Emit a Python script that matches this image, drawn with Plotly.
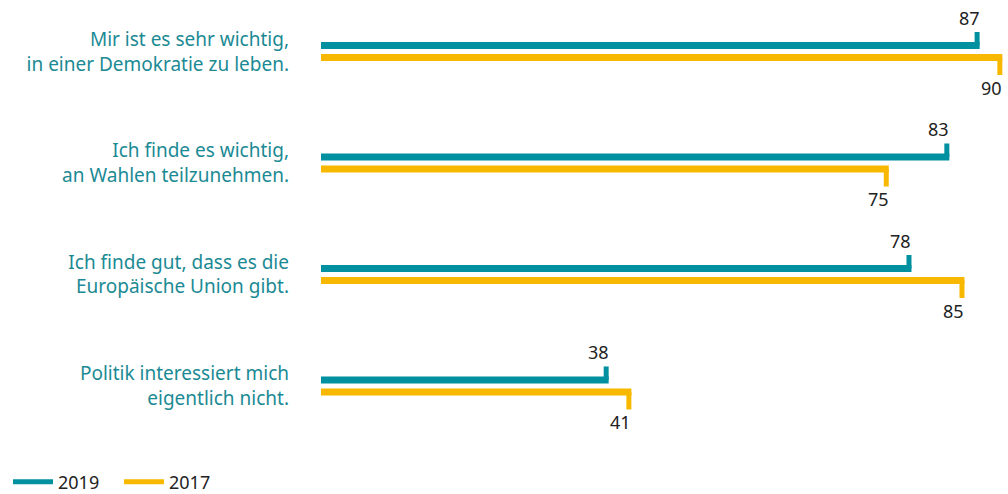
import plotly.graph_objects as go

categories = [
    "Mir ist es sehr wichtig,<br>in einer Demokratie zu leben.",
    "Ich finde es wichtig,<br>an Wahlen teilzunehmen.",
    "Ich finde gut, dass es die<br>Europäische Union gibt.",
    "Politik interessiert mich<br>eigentlich nicht.",
]
values_2019 = [87, 83, 78, 38]
values_2017 = [90, 75, 85, 41]
series_names = ["2019", "2017"]

TEAL = "#0090A0"
YELLOW = "#F9B800"
LABEL_TEAL = "#1B8A94"
NUM_COLOR = "#222222"
FONT = "Noto Sans"

W, H = 1008, 494
L = 321
XMAX = 90.75
pxx = (W - L) / XMAX          # px per x unit
Y_TOP, Y_BOT = 3.462, -0.969
pxy = H / (Y_TOP - Y_BOT)     # px per y unit

n = len(categories)
cat_pos = [n - 1 - i for i in range(n)]   # top to bottom

bar_off = 6 / pxy
tick_dx = 2.5 / pxx

fig = go.Figure()

def add_series(vals, name, color, sign, tick_len_px, label_shift):
    bx, by = [], []
    tx, ty = [], []
    for c, v in zip(cat_pos, vals):
        yc = c + sign * bar_off
        bx += [0, v, None]
        by += [yc, yc, None]
        tx += [v - tick_dx, v - tick_dx, None]
        ty += [yc, yc + sign * tick_len_px / pxy, None]
    fig.add_trace(go.Scatter(x=tx, y=ty, mode="lines", name=name,
                             line=dict(color=color, width=5),
                             legendgroup=name, showlegend=True,
                             hoverinfo="skip"))
    fig.add_trace(go.Scatter(x=bx, y=by, mode="lines", name=name,
                             line=dict(color=color, width=7),
                             legendgroup=name, showlegend=False,
                             hoverinfo="skip"))
    for c, v in zip(cat_pos, vals):
        fig.add_annotation(x=v, y=c + sign * bar_off, xref="x", yref="y",
                           text=str(v), showarrow=False, xanchor="right",
                           yanchor="middle", yshift=label_shift, xshift=2,
                           font=dict(family=FONT, size=18, color=NUM_COLOR))

add_series(values_2019, series_names[0], TEAL, +1, 13.5, 27.5)
add_series(values_2017, series_names[1], YELLOW, -1, 17.5, -30.5)

fig.update_layout(
    width=W, height=H,
    margin=dict(l=L, r=0, t=0, b=0, autoexpand=False),
    paper_bgcolor="white", plot_bgcolor="white",
    font=dict(family=FONT, size=18, color=NUM_COLOR),
    xaxis=dict(range=[0, XMAX], visible=False, fixedrange=True),
    yaxis=dict(range=[Y_BOT, Y_TOP], showgrid=False, zeroline=False,
               showline=False, ticks="", tickvals=cat_pos,
               ticktext=categories, ticklabelstandoff=31, automargin=False,
               tickfont=dict(family=FONT, size=19, color=LABEL_TEAL),
               fixedrange=True),
    legend=dict(orientation="h", x=8 / W, xref="container", xanchor="left",
                y=12 / H, yref="container", yanchor="middle", entrywidth=56,
                itemwidth=40,
                font=dict(family=FONT, size=18, color=NUM_COLOR),
                bgcolor="rgba(0,0,0,0)", traceorder="normal"),
    showlegend=True,
)

fig.write_html("out.html", config={"displayModeBar": False},
               post_script="document.body.style.margin='0';document.body.style.overflow='hidden';")
